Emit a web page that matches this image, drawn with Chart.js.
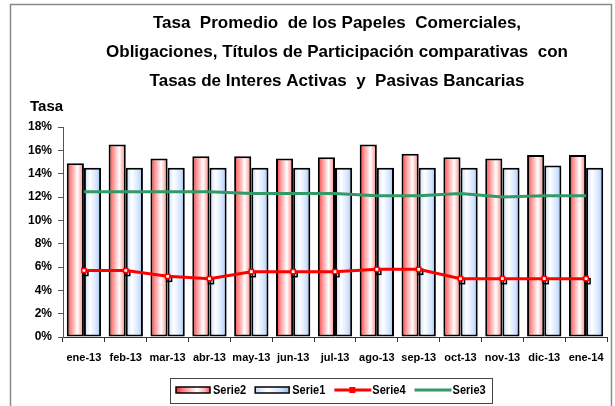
<!DOCTYPE html>
<html>
<head>
<meta charset="utf-8">
<script src="https://cdn.jsdelivr.net/npm/chart.js@4.4.1/dist/chart.umd.min.js"></script>
<style>
  html, body { margin: 0; padding: 0; background: #fff; }
  #wrap { width: 615px; height: 406px; }
</style>
</head>
<body>
<div id="wrap"><canvas id="chart" width="615" height="406"></canvas></div>
<script>
// data
const months = ['ene-13', 'feb-13', 'mar-13', 'abr-13', 'may-13', 'jun-13', 'jul-13',
                'ago-13', 'sep-13', 'oct-13', 'nov-13', 'dic-13', 'ene-14'];
const serie2 = [14.9, 16.5, 15.3, 15.5, 15.5, 15.3, 15.4, 16.5, 15.7, 15.4, 15.3, 15.6, 15.6];
const serie1 = [14.5, 14.5, 14.5, 14.5, 14.5, 14.5, 14.5, 14.5, 14.5, 14.5, 14.5, 14.7, 14.5];
const serie4 = [5.7, 5.7, 5.2, 5.0, 5.6, 5.6, 5.6, 5.8, 5.8, 5.0, 5.0, 5.0, 5.0];
const serie3 = [12.45, 12.45, 12.45, 12.45, 12.3, 12.3, 12.3, 12.1, 12.1, 12.3, 12.0, 12.1, 12.1];
const yMax = 18;
const yStep = 2;
const titleLines = [
  'Tasa  Promedio  de los Papeles  Comerciales,',
  'Obligaciones, Títulos de Participación comparativas  con',
  'Tasas de Interes Activas  y  Pasivas Bancarias'
];
const yTitle = 'Tasa';

const FONT = '"Liberation Sans", Arial, sans-serif';

// horizontal gradients used by the bars (and the legend swatches)
const gradStops = {
  Serie2: [[0, '#ff1f1f'], [0.2, '#ff8080'], [0.62, '#ffffff'], [0.85, '#ffb0b0'], [1, '#ff4d4d']],
  Serie1: [[0, '#c4dafa'], [0.35, '#ffffff'], [0.75, '#d2e4ff'], [1, '#94bdf5']]
};

function makeGrad(ctx, x0, x1, label) {
  const g = ctx.createLinearGradient(x0, 0, x1, 0);
  gradStops[label].forEach(s => g.addColorStop(s[0], s[1]));
  return g;
}

// frame, title and axis caption
const decor = {
  id: 'decor',
  beforeDraw(chart) {
    const ctx = chart.ctx;
    ctx.save();
    ctx.fillStyle = '#fff';
    ctx.fillRect(0, 0, chart.width, chart.height);
    ctx.strokeStyle = '#8a8a8a';
    ctx.lineWidth = 1.5;
    ctx.strokeRect(10.5, 4.5, 601, 420);

    ctx.fillStyle = '#000';
    ctx.font = 'bold 17px ' + FONT;
    ctx.textAlign = 'center';
    ctx.textBaseline = 'alphabetic';
    titleLines.forEach((t, i) => ctx.fillText(t, 337, 28 + i * 29));

    ctx.font = 'bold 15px ' + FONT;
    ctx.textAlign = 'left';
    ctx.fillText(yTitle, 30, 111);
    ctx.restore();
  }
};

// per-bar gradient fill
const barFill = {
  id: 'barFill',
  beforeDatasetsDraw(chart) {
    const ctx = chart.ctx;
    chart.data.datasets.forEach((ds, i) => {
      if (ds.type !== 'bar') return;
      chart.getDatasetMeta(i).data.forEach(bar => {
        bar.options.backgroundColor = makeGrad(ctx, bar.x - bar.width / 2, bar.x + bar.width / 2, ds.label);
      });
    });
  },
  // small dark shadow behind the Serie4 markers
  beforeDatasetDraw(chart, args) {
    const ds = chart.data.datasets[args.index];
    if (ds.label !== 'Serie4') return;
    const ctx = chart.ctx;
    ctx.save();
    ctx.strokeStyle = '#000';
    ctx.lineWidth = 1.5;
    args.meta.data.forEach(p => {
      ctx.strokeRect(p.x - 1, p.y, 5, 5);
    });
    ctx.restore();
  }
};

// legend drawn in a box under the axis
const legendBox = {
  id: 'legendBox',
  afterDraw(chart) {
    const ctx = chart.ctx;
    const squeeze = 0.85;
    ctx.save();
    ctx.strokeStyle = '#444';
    ctx.lineWidth = 1;
    ctx.strokeRect(170.5, 378.5, 322, 25);
    ctx.font = 'bold 13px ' + FONT;
    ctx.textBaseline = 'middle';
    const yMid = 390;
    let x = 176;
    const order = ['Serie2', 'Serie1', 'Serie4', 'Serie3'];
    order.forEach(lab => {
      const ds = chart.data.datasets.find(d => d.label === lab);
      if (ds.type === 'bar') {
        ctx.fillStyle = makeGrad(ctx, x, x + 34, lab);
        ctx.fillRect(x, yMid - 3, 34, 6);
        ctx.strokeStyle = '#000';
        ctx.lineWidth = 1.5;
        ctx.strokeRect(x, yMid - 3, 34, 6);
        x += 37;
      } else {
        ctx.strokeStyle = ds.borderColor;
        ctx.lineWidth = 3;
        ctx.beginPath();
        ctx.moveTo(x, yMid);
        ctx.lineTo(x + 37, yMid);
        ctx.stroke();
        if (ds.pointRadius > 0) {
          ctx.fillStyle = ds.borderColor;
          ctx.fillRect(x + 15, yMid - 3, 6, 6);
        }
        x += 38;
      }
      ctx.fillStyle = '#000';
      ctx.save();
      ctx.translate(x, yMid);
      ctx.scale(squeeze, 1);
      ctx.fillText(lab, 0, 0);
      ctx.restore();
      x += ctx.measureText(lab).width * squeeze + 9;
    });
    ctx.restore();
  }
};

new Chart(document.getElementById('chart'), {
  data: {
    labels: months,
    datasets: [
      {
        type: 'bar', label: 'Serie2', data: serie2, order: 2,
        backgroundColor: () => '#ff8080', borderColor: '#000', borderWidth: 2,
        borderSkipped: false, categoryPercentage: 0.82, barPercentage: 1
      },
      {
        type: 'bar', label: 'Serie1', data: serie1, order: 2,
        backgroundColor: () => '#cfe2ff', borderColor: '#000', borderWidth: 2,
        borderSkipped: false, categoryPercentage: 0.82, barPercentage: 1
      },
      {
        type: 'line', label: 'Serie4', data: serie4, order: 1,
        borderColor: '#ff0000', borderWidth: 3, tension: 0,
        pointStyle: 'rect', pointRadius: 3, pointBorderWidth: 1.5,
        pointBackgroundColor: '#ffffff', pointBorderColor: '#ff0000'
      },
      {
        type: 'line', label: 'Serie3', data: serie3, order: 1,
        borderColor: '#339966', borderWidth: 3, tension: 0, pointRadius: 0
      }
    ]
  },
  options: {
    responsive: false,
    animation: false,
    devicePixelRatio: 1,
    layout: { padding: { top: 127, right: 8, left: 0, bottom: 0 } },
    plugins: {
      legend: { display: false },
      title: { display: false },
      tooltip: { enabled: false }
    },
    scales: {
      x: {
        offset: true,
        grid: { display: true, drawOnChartArea: false, drawTicks: true, tickLength: 5, color: '#333', offset: true },
        border: { display: true, color: '#333', width: 1 },
        ticks: { color: '#000', font: { family: FONT, size: 11, weight: 'bold' }, padding: 9, maxRotation: 0, autoSkip: false },
        afterFit: s => { s.height = 69; }
      },
      y: {
        min: 0, max: yMax,
        grid: { display: true, drawOnChartArea: false, drawTicks: true, tickLength: 5, color: '#555' },
        border: { display: true, color: '#555', width: 1 },
        ticks: {
          stepSize: yStep, color: '#000', padding: 6,
          font: { family: FONT, size: 12, weight: 'bold' },
          callback: v => v + '%'
        },
        afterFit: s => { s.width = 63; }
      }
    }
  },
  plugins: [decor, barFill, legendBox]
});
</script>
</body>
</html>
